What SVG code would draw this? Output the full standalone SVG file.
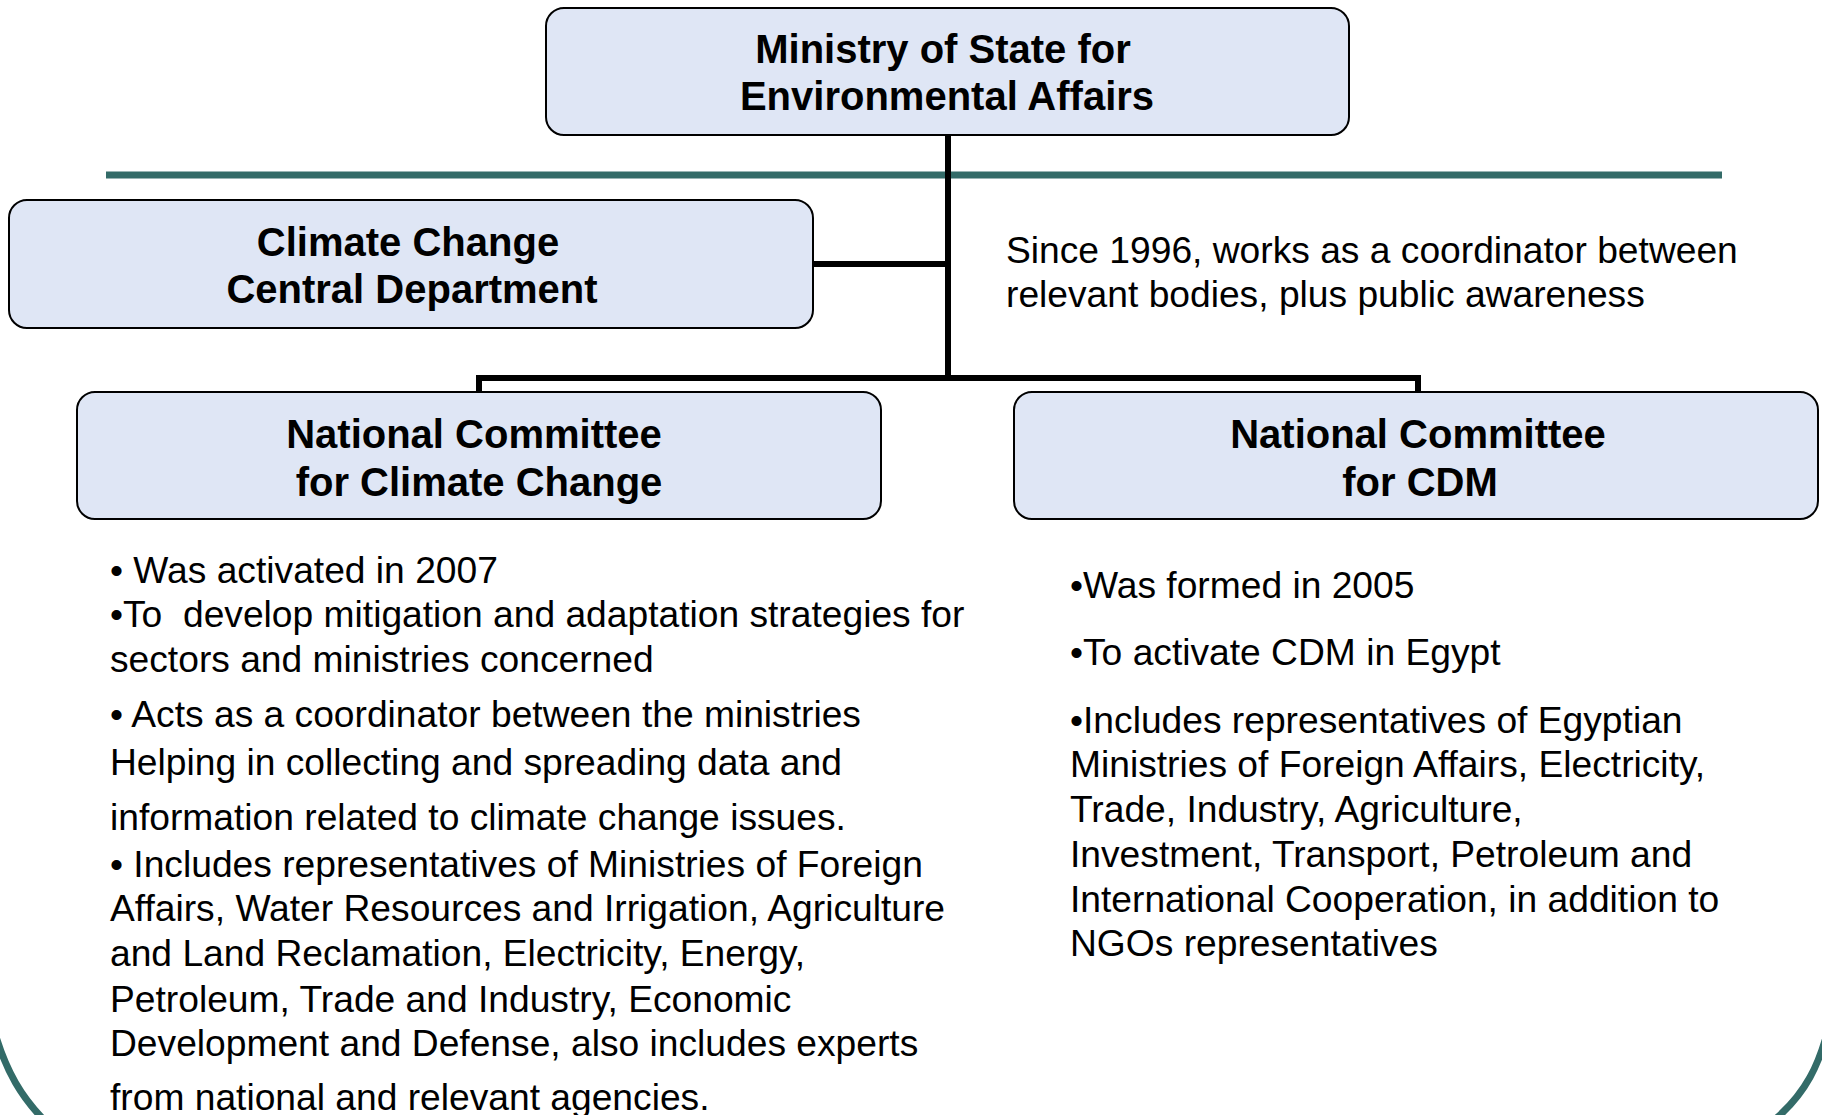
<svg xmlns="http://www.w3.org/2000/svg" width="1822" height="1115" viewBox="0 0 1822 1115">
<style>
.box{fill:#DFE6F5;stroke:#000;stroke-width:2}
.t{font-family:"Liberation Sans",Arial,sans-serif;font-weight:bold;font-size:40px;fill:#000;text-anchor:middle}
.b{font-family:"Liberation Sans",Arial,sans-serif;font-size:37.2px;fill:#000}
.con{stroke:#000;stroke-width:6;fill:none}
.frame{stroke:#336B68;fill:none}
</style>
<rect width="1822" height="1115" fill="#fff"/>
<g id="frame">
<line class="frame" x1="106" y1="175" x2="1722" y2="175" stroke-width="7"/>
<path class="frame" stroke-width="7" d="M -6 1030 C 6 1072, 22 1098, 46 1122"/>
<path class="frame" stroke-width="7" d="M 1830 1022 C 1820 1064, 1806 1094, 1772 1122"/>
</g>
<g id="connectors">
<line class="con" x1="948" y1="134" x2="948" y2="381"/>
<line class="con" x1="813" y1="264" x2="948" y2="264"/>
<polyline class="con" points="479,393 479,378 1418,378 1418,393"/>
</g>
<g id="ministry">
<rect class="box" x="546" y="8" width="803" height="127" rx="18"/>
<text class="t" x="943" y="63">Ministry of State for</text>
<text class="t" x="947" y="110">Environmental Affairs</text>
</g>
<g id="cccd">
<rect class="box" x="9" y="200" width="804" height="128" rx="18"/>
<text class="t" x="408" y="256">Climate Change</text>
<text class="t" x="412" y="303">Central Department</text>
</g>
<g id="note">
<text class="b" x="1006" y="263">Since 1996, works as a coordinator between</text>
<text class="b" x="1006" y="307">relevant bodies, plus public awareness</text>
</g>
<g id="nccc">
<rect class="box" x="77" y="392" width="804" height="127" rx="18"/>
<text class="t" x="474" y="448">National Committee</text>
<text class="t" x="479" y="496">for Climate Change</text>
</g>
<g id="nccdm">
<rect class="box" x="1014" y="392" width="804" height="127" rx="18"/>
<text class="t" x="1418" y="448">National Committee</text>
<text class="t" x="1420" y="496">for CDM</text>
</g>
<g id="nccc-text">
<text class="b" x="110" y="583">• Was activated in 2007</text>
<text class="b" x="110" y="627">•To&#160; develop mitigation and adaptation strategies for</text>
<text class="b" x="110" y="672">sectors and ministries concerned</text>
<text class="b" x="110" y="727">• Acts as a coordinator between the ministries</text>
<text class="b" x="110" y="775">Helping in collecting and spreading data and</text>
<text class="b" x="110" y="830">information related to climate change issues.</text>
<text class="b" x="110" y="877">• Includes representatives of Ministries of Foreign</text>
<text class="b" x="110" y="921">Affairs, Water Resources and Irrigation, Agriculture</text>
<text class="b" x="110" y="966">and Land Reclamation, Electricity, Energy,</text>
<text class="b" x="110" y="1012">Petroleum, Trade and Industry, Economic</text>
<text class="b" x="110" y="1056">Development and Defense, also includes experts</text>
<text class="b" x="110" y="1110">from national and relevant agencies.</text>
</g>
<g id="nccdm-text">
<text class="b" x="1070" y="598">•Was formed in 2005</text>
<text class="b" x="1070" y="665">•To activate CDM in Egypt</text>
<text class="b" x="1070" y="733">•Includes representatives of Egyptian</text>
<text class="b" x="1070" y="777">Ministries of Foreign Affairs, Electricity,</text>
<text class="b" x="1070" y="822">Trade, Industry, Agriculture,</text>
<text class="b" x="1070" y="867">Investment, Transport, Petroleum and</text>
<text class="b" x="1070" y="912">International Cooperation, in addition to</text>
<text class="b" x="1070" y="956">NGOs representatives</text>
</g>
</svg>
